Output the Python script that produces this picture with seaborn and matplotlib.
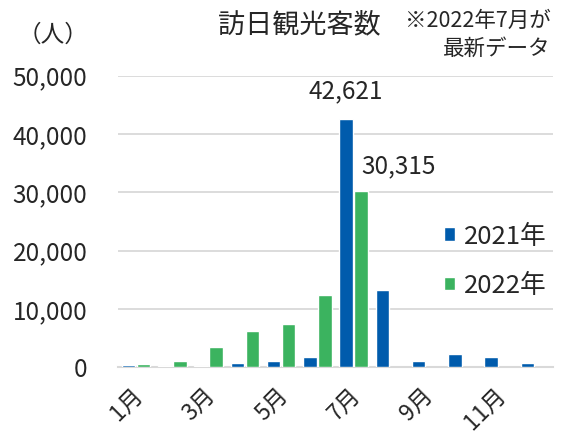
import numpy as np
import pandas as pd
import matplotlib
matplotlib.use("Agg")
import matplotlib.pyplot as plt
from matplotlib.transforms import ScaledTranslation
import seaborn as sns

months = ["1月", "2月", "3月", "4月", "5月", "6月", "7月", "8月", "9月", "10月", "11月", "12月"]
v2021 = [450, 250, 300, 700, 1100, 1700, 42621, 13300, 1150, 2300, 1800, 700]
v2022 = [600, 1050, 3400, 6200, 7400, 12400, 30315, np.nan, np.nan, np.nan, np.nan, np.nan]
series = ["2021年", "2022年"]
yticks = [0, 10000, 20000, 30000, 40000, 50000]

df = pd.DataFrame({
    "month": months * 2,
    "value": v2021 + v2022,
    "year": [series[0]] * 12 + [series[1]] * 12,
})

sns.set_theme(style="white")
FONT = ["Noto Sans CJK JP", "DejaVu Sans"]
plt.rcParams["font.family"] = FONT

fig = plt.figure(figsize=(5.69, 4.33), dpi=100)
ax = fig.add_axes([0.2074, 0.1517, 0.7645, 0.6735])

sns.barplot(data=df, x="month", y="value", hue="year", order=months,
            hue_order=series, palette=["#005BAC", "#3BB35F"],
            width=0.83, gap=0.11, ax=ax, legend=True, saturation=1,
            zorder=3)

ax.set_ylim(0, 50000)
ax.set_xlim(-0.5, 11.5)
ax.set_yticks(yticks)
ax.set_yticklabels([f"{v:,}" for v in yticks], fontsize=17.5)
ax.yaxis.grid(True, color="#d9d9d9", linewidth=1.3, zorder=1)
ax.set_axisbelow(True)
for s in ["left", "right", "top"]:
    ax.spines[s].set_visible(False)
ax.spines["bottom"].set_color("#d9d9d9")
ax.spines["bottom"].set_linewidth(1.5)
ax.spines["bottom"].set_zorder(2)
ax.tick_params(axis="both", length=0)
ax.tick_params(axis="y", pad=22)
ax.tick_params(axis="x", pad=12)
ax.set_xlabel("")
ax.set_ylabel("")

ax.set_xticks(range(12))
ax.set_xticklabels([m if i % 2 == 0 else "" for i, m in enumerate(months)],
                   rotation=45, ha="right", rotation_mode="anchor", fontsize=16.5)
shift = ScaledTranslation(-5 / 100, 0, fig.dpi_scale_trans)
for lab in ax.get_xticklabels():
    lab.set_transform(lab.get_transform() + shift)

ax.text(5.79, 47300, f"{v2021[6]:,}", ha="center", va="center", fontsize=17.5)
ax.text(7.24, 34500, f"{int(v2022[6]):,}", ha="center", va="center", fontsize=17.5)

leg = ax.legend(loc="center left", bbox_to_anchor=(0.780, 0.397),
                bbox_transform=fig.transFigure, frameon=False, borderpad=0,
                borderaxespad=0, fontsize=18.5, handlelength=0.45,
                handleheight=0.45, handletextpad=0.35, labelspacing=0.9)

fig.text(0.383, 0.942, "訪日観光客数", fontsize=19.5, ha="left", va="center")
fig.text(0.968, 0.952, "※2022年7月が", fontsize=15.5, ha="right", va="center")
fig.text(0.968, 0.888, "最新データ", fontsize=15.5, ha="right", va="center")
fig.text(0.093, 0.918, "（人）", fontsize=17, ha="center", va="center")

fig.savefig("out.png", dpi=100)
